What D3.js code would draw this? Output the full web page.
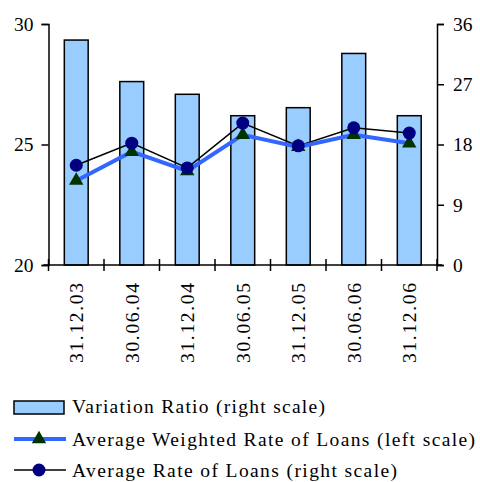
<!DOCTYPE html>
<html>
<head>
<meta charset="utf-8">
<script src="https://cdn.jsdelivr.net/npm/d3@7"></script>
<style>
  body { margin: 0; background: #fff; }
</style>
</head>
<body>
<svg width="480" height="482"></svg>
<script>
var dates = ["31.12.03", "30.06.04", "31.12.04", "30.06.05", "31.12.05", "30.06.06", "31.12.06"];
var variationRatio = [33.6, 27.4, 25.5, 22.3, 23.5, 31.6, 22.3];      // right scale
var weightedRate = [23.5, 24.7, 23.9, 25.4, 24.9, 25.4, 25.05];     // left scale
var averageRate = [14.9, 18.2, 14.5, 21.2, 17.8, 20.5, 19.7];        // right scale
var leftTicks = [20, 25, 30];
var rightTicks = [0, 9, 18, 27, 36];
var legendLabels = ["Variation Ratio (right scale)", "Average Weighted Rate of Loans (left scale)", "Average Rate of Loans (right scale)"];

var svg = d3.select("svg");
var plotLeft = 48.5, plotRight = 437, plotTop = 24, plotBottom = 265;
var serif = "Liberation Serif, DejaVu Serif, Times New Roman, serif";
var fs = 19.5;

var x = d3.scaleBand().domain(dates).range([plotLeft, plotRight]).paddingInner(0.57).paddingOuter(0.285);
var xb = d3.scaleBand().domain(dates).range([plotLeft, plotRight]);
var yL = d3.scaleLinear().domain([20, 30]).range([plotBottom, plotTop]);
var yR = d3.scaleLinear().domain([0, 36]).range([plotBottom, plotTop]);

// bars
svg.selectAll("rect.bar")
    .data(variationRatio)
    .enter()
    .append("rect")
    .attr("class", "bar")
    .attr("x", function(d, i) { return x(dates[i]); })
    .attr("width", x.bandwidth())
    .attr("y", function(d) { return yR(d); })
    .attr("height", function(d) { return plotBottom - yR(d); })
    .attr("fill", "#99ccff")
    .attr("stroke", "#000")
    .attr("stroke-width", 1.5);

var cx = function(d, i) { return xb(dates[i]) + xb.bandwidth() / 2; };

// average rate line (right)
var lineR = d3.line().x(cx).y(function(d) { return yR(d); });
svg.append("path").datum(averageRate)
    .attr("d", lineR).attr("fill", "none").attr("stroke", "#000").attr("stroke-width", 1.5);

// weighted rate line (left)
var lineL = d3.line().x(cx).y(function(d) { return yL(d); });
svg.append("path").datum(weightedRate)
    .attr("d", lineL).attr("fill", "none").attr("stroke", "#3366ff").attr("stroke-width", 4);

var tri = d3.symbol().type(d3.symbolTriangle).size(90);
svg.selectAll("path.tri")
    .data(weightedRate)
    .enter()
    .append("path")
    .attr("class", "tri")
    .attr("d", tri)
    .attr("transform", function(d, i) { return "translate(" + cx(d, i) + "," + yL(d) + ")"; })
    .attr("fill", "#003300");

svg.selectAll("circle.avg")
    .data(averageRate)
    .enter()
    .append("circle")
    .attr("class", "avg")
    .attr("cx", cx)
    .attr("cy", function(d) { return yR(d); })
    .attr("r", 6.5)
    .attr("fill", "#000080");

// axes
var axL = svg.append("g").attr("transform", "translate(" + plotLeft + ",0)")
    .call(d3.axisLeft(yL).tickValues(leftTicks).tickSize(7).tickPadding(8));
var axR = svg.append("g").attr("transform", "translate(" + plotRight + ",0)")
    .call(d3.axisRight(yR).tickValues(rightTicks).tickSize(7).tickPadding(9));
[axL, axR].forEach(function(g) {
    g.attr("font-family", serif);
    g.select(".domain").attr("stroke", "#000").attr("stroke-width", 1.5);
    g.selectAll(".tick line").attr("stroke", "#000").attr("stroke-width", 1.5);
    g.selectAll(".tick text").attr("font-size", fs).attr("fill", "#000");
});

// bottom axis with band boundary ticks
var xg = svg.append("g").attr("font-family", serif);
xg.append("line").attr("x1", plotLeft - 5).attr("x2", plotRight + 5).attr("y1", plotBottom).attr("y2", plotBottom)
    .attr("stroke", "#000").attr("stroke-width", 1.5);
var bounds = dates.map(function(d) { return xb(d); }).concat([plotRight]);
xg.selectAll("line.bt")
    .data(bounds)
    .enter()
    .append("line")
    .attr("class", "bt")
    .attr("x1", function(d) { return d; }).attr("x2", function(d) { return d; })
    .attr("y1", plotBottom - 6).attr("y2", plotBottom + 6)
    .attr("stroke", "#000").attr("stroke-width", 1.5);
xg.selectAll("text")
    .data(dates)
    .enter()
    .append("text")
    .attr("transform", function(d, i) { return "translate(" + (cx(d, i) + 7) + ",283) rotate(-90)"; })
    .attr("text-anchor", "end")
    .attr("font-size", fs)
    .attr("textLength", 80)
    .attr("lengthAdjust", "spacing")
    .text(function(d) { return d; });

// legend
var lg = svg.append("g").attr("font-family", serif);
lg.append("rect").attr("x", 14).attr("y", 401).attr("width", 50).attr("height", 13)
    .attr("fill", "#99ccff").attr("stroke", "#000").attr("stroke-width", 1.5);

lg.append("line").attr("x1", 14).attr("x2", 66).attr("y1", 439).attr("y2", 439)
    .attr("stroke", "#3366ff").attr("stroke-width", 4);
lg.append("path").attr("d", tri).attr("transform", "translate(39,439)").attr("fill", "#003300");

lg.append("line").attr("x1", 14).attr("x2", 66).attr("y1", 470).attr("y2", 470)
    .attr("stroke", "#000").attr("stroke-width", 1.5);
lg.append("circle").attr("cx", 39).attr("cy", 470).attr("r", 6.5).attr("fill", "#000080");

var legendY = [413, 446, 477];
var legendW = [253, 403, 325];
lg.selectAll("text")
    .data(legendLabels)
    .enter()
    .append("text")
    .attr("x", 72)
    .attr("y", function(d, i) { return legendY[i]; })
    .attr("font-size", fs)
    .attr("textLength", function(d, i) { return legendW[i]; })
    .attr("lengthAdjust", "spacing")
    .text(function(d) { return d; });
</script>
</body>
</html>
